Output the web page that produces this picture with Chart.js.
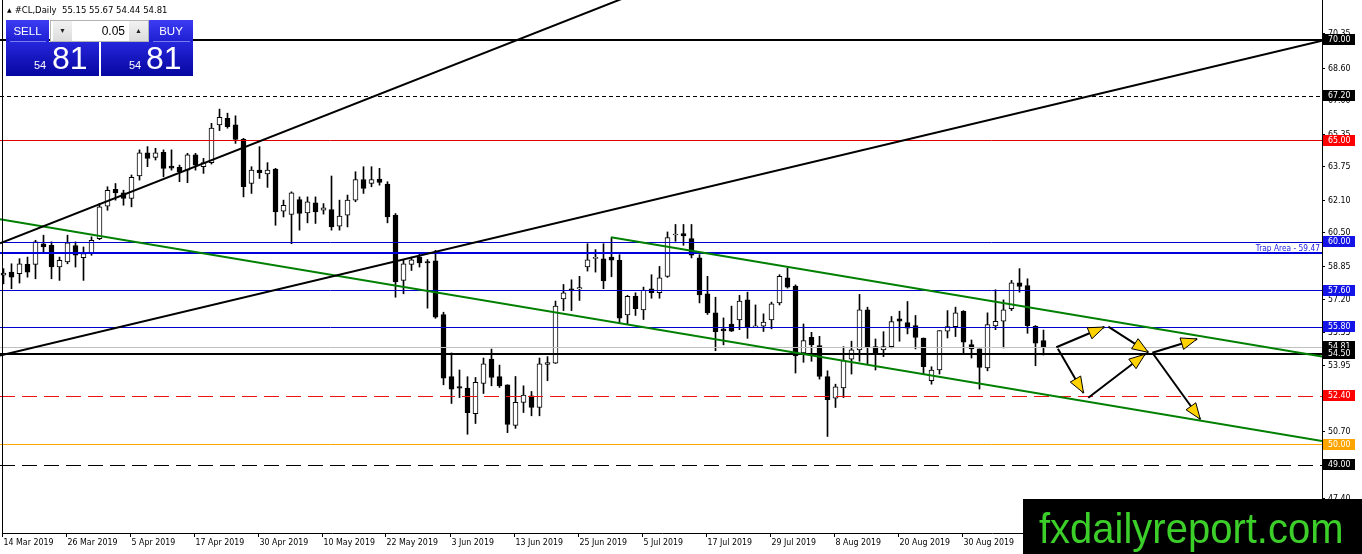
<!DOCTYPE html>
<html>
<head>
<meta charset="utf-8">
<title>#CL,Daily</title>
<script src="https://cdn.jsdelivr.net/npm/chart.js@4.4.1/dist/chart.umd.min.js"></script>
<style>
  html, body { margin: 0; padding: 0; background: #fff; overflow: hidden; }
  #wrap { position: relative; width: 1362px; height: 554px; }
  #chart { position: absolute; left: 0; top: 0; }
  .hdr { position: absolute; left: 7px; top: 5px; font: 8.5px "DejaVu Sans", sans-serif; color: #000; white-space: nowrap; }
  .hdr .tri { font-size: 6px; position: relative; top: -1px; margin-right: 3px; }
  .blk { position: absolute; color: #fff; font-family: "Liberation Sans", Arial, sans-serif; }
  .head { height: 22px; line-height: 22px; font-size: 11.5px; text-align: center; background: linear-gradient(#3c3cf2, #1d1dd2); }
  .head::after { content: ""; position: absolute; left: 4px; right: 3px; bottom: 0; height: 1px; background: rgba(200,200,255,0.55); }
  .px { height: 34px; background: linear-gradient(#2626dc, #0606a0); }
  .px .sm { position: absolute; font-size: 11px; line-height: 11px; top: 18px; }
  .px .big { position: absolute; font-size: 32px; line-height: 32px; top: 0px; }
  .spin { position: absolute; left: 50px; top: 20px; width: 97px; height: 20px; background: #fff; border: 1px solid #b4b4b4; font-family: "Liberation Sans", Arial, sans-serif; }
  .spin .b { position: absolute; top: 0; width: 19px; height: 20px; background: linear-gradient(#f2f2f2, #dcdcdc); font-size: 7px; line-height: 20px; text-align: center; color: #222; }
  .spin .v { position: absolute; left: 22px; width: 52px; text-align: right; font-size: 12px; line-height: 20px; color: #000; }
</style>
</head>
<body>
<div id="wrap">
  <canvas id="chart" width="1362" height="554"></canvas>
  <div class="hdr"><span class="tri">▲</span>#CL,Daily&nbsp; 55.15 55.67 54.44 54.81</div>
  <div class="blk head" style="left:6px;top:20px;width:43px;">SELL</div>
  <div class="spin"><div class="b" style="left:2px;">▼</div><div class="v">0.05</div><div class="b" style="right:0;">▲</div></div>
  <div class="blk head" style="left:149px;top:20px;width:44px;">BUY</div>
  <div class="blk px" style="left:6px;top:42px;width:93px;"><span class="sm" style="left:28px;">54</span><span class="big" style="left:46px;">81</span></div>
  <div class="blk px" style="left:101px;top:42px;width:92px;"><span class="sm" style="left:28px;">54</span><span class="big" style="left:45px;">81</span></div>
</div>
<script>
// daily candles, 14 Mar 2019 .. 13 Sep 2019
const opens = [
  58.38, 58.53, 58.45, 58.91, 58.91, 59.93, 59.85, 58.78, 59.03, 59.84,
  59.24, 59.44, 60.18, 61.78, 62.61, 62.44, 62.16, 63.27, 64.42, 64.19,
  64.44, 63.76, 63.70, 63.56, 64.31, 63.73, 63.93, 65.79, 66.12, 65.79,
  65.08, 62.90, 63.56, 63.37, 63.61, 61.54, 61.37, 62.11, 61.45, 61.95,
  61.58, 61.62, 60.79, 61.34, 62.08, 63.10, 62.90, 63.12, 62.87, 61.34,
  58.12, 58.91, 59.27, 59.05, 59.08, 56.43, 53.37, 52.88, 52.81, 51.55,
  53.04, 54.24, 53.37, 52.97, 50.97, 52.10, 52.43, 51.85, 53.98, 54.04,
  57.21, 57.70, 57.70, 58.78, 59.20, 59.19, 59.27, 59.11, 56.42, 57.33,
  56.67, 57.71, 57.51, 58.32, 60.36, 60.43, 60.18, 59.23, 57.46, 56.52,
  55.73, 55.97, 56.17, 57.16, 55.83, 55.86, 56.17, 57.01, 58.25, 57.84,
  54.54, 55.31, 54.90, 53.37, 52.31, 52.81, 54.24, 54.69, 56.67, 54.85,
  54.69, 54.85, 56.22, 56.04, 55.89, 55.28, 53.17, 53.70, 55.61, 55.84,
  56.60, 54.95, 54.74, 53.80, 55.87, 56.11, 56.72, 58.00, 57.87, 55.86,
  55.15
];
const highs = [
  58.70, 58.94, 59.19, 59.27, 60.10, 60.35, 60.02, 59.27, 60.35, 60.02,
  59.77, 60.27, 61.91, 62.74, 62.90, 62.57, 63.32, 64.56, 64.72, 64.64,
  64.56, 64.56, 63.81, 64.39, 64.39, 64.14, 65.87, 66.57, 66.37, 66.24,
  65.13, 63.73, 64.72, 63.93, 63.65, 62.08, 62.49, 62.24, 62.24, 62.24,
  61.91, 63.27, 62.08, 62.33, 63.48, 63.73, 63.73, 63.65, 62.99, 61.42,
  59.14, 59.27, 59.44, 59.15, 59.60, 56.55, 54.54, 53.70, 53.37, 53.33,
  54.29, 54.73, 53.94, 52.97, 53.38, 52.92, 52.64, 54.29, 54.36, 57.10,
  57.92, 58.15, 58.32, 59.93, 59.64, 59.93, 60.23, 59.39, 57.38, 57.51,
  57.79, 58.40, 58.81, 60.51, 60.88, 60.88, 60.88, 59.39, 58.32, 57.29,
  56.27, 56.85, 57.38, 57.54, 56.91, 56.47, 57.05, 58.40, 58.73, 57.90,
  55.97, 55.56, 55.36, 53.66, 53.00, 54.85, 55.12, 57.43, 56.80, 55.23,
  55.59, 56.34, 56.60, 57.08, 56.39, 55.28, 53.86, 55.64, 56.63, 56.80,
  56.63, 55.18, 54.74, 56.52, 57.66, 57.16, 58.12, 58.70, 58.20, 55.89,
  55.67
];
const lows = [
  57.95, 57.71, 57.99, 58.28, 58.20, 59.52, 58.20, 58.12, 58.94, 58.78,
  58.12, 59.36, 60.13, 61.58, 62.08, 61.83, 61.75, 63.07, 63.73, 64.06,
  63.23, 63.56, 62.99, 62.94, 63.56, 63.40, 63.86, 65.51, 65.63, 64.88,
  62.24, 62.41, 63.15, 62.71, 60.84, 61.25, 59.93, 60.60, 60.96, 60.93,
  61.39, 60.60, 60.60, 60.76, 62.00, 62.41, 62.74, 62.82, 60.96, 57.29,
  57.46, 58.61, 58.78, 56.75, 56.25, 52.97, 52.05, 52.34, 50.53, 51.06,
  52.54, 52.92, 52.84, 50.61, 50.82, 51.60, 51.44, 51.44, 53.17, 54.02,
  56.63, 56.63, 57.13, 58.58, 58.53, 57.71, 58.30, 56.02, 55.97, 56.39,
  56.19, 57.24, 57.24, 58.27, 60.05, 59.85, 59.23, 57.01, 56.44, 54.65,
  54.94, 55.60, 55.69, 55.26, 55.81, 55.60, 55.73, 56.91, 57.74, 53.55,
  54.08, 54.13, 53.25, 50.42, 51.85, 52.34, 53.50, 54.13, 53.99, 53.70,
  54.36, 54.79, 55.12, 55.48, 54.74, 53.50, 53.00, 53.50, 55.28, 55.35,
  54.52, 54.29, 52.76, 53.66, 55.69, 54.79, 56.63, 57.54, 55.51, 53.91,
  54.44
];
const closes = [
  58.48, 58.28, 58.94, 58.53, 60.02, 59.77, 58.78, 59.11, 59.97, 59.36,
  59.44, 60.10, 61.75, 62.57, 62.44, 62.16, 63.20, 64.42, 64.14, 64.42,
  63.65, 63.66, 63.48, 64.31, 63.81, 63.93, 65.63, 66.17, 65.71, 65.08,
  62.74, 63.56, 63.43, 63.56, 61.50, 61.83, 62.44, 61.42, 62.00, 61.50,
  61.70, 60.76, 61.29, 62.08, 63.10, 62.66, 63.10, 62.95, 61.25, 58.04,
  58.94, 59.14, 58.98, 58.98, 56.30, 53.30, 52.76, 52.80, 51.60, 53.09,
  54.00, 53.33, 52.92, 51.02, 52.10, 52.46, 51.85, 54.00, 54.06, 56.85,
  57.51, 57.62, 57.76, 59.14, 59.26, 58.09, 59.12, 56.26, 57.34, 56.72,
  57.64, 57.51, 58.25, 60.23, 60.40, 60.31, 59.36, 57.41, 56.52, 55.59,
  55.63, 55.61, 57.10, 55.84, 55.86, 56.06, 56.96, 58.32, 57.79, 54.40,
  55.15, 54.94, 53.38, 52.24, 52.87, 54.16, 54.69, 56.67, 54.82, 54.49,
  54.85, 56.09, 56.11, 55.76, 55.31, 53.86, 53.70, 55.64, 55.84, 56.52,
  55.07, 54.74, 53.83, 55.94, 56.10, 56.67, 58.00, 57.82, 55.89, 55.02,
  54.81
];

// date labels, one every 8 bars starting at bar 0
const dateLabels = ['14 Mar 2019', '26 Mar 2019', '5 Apr 2019', '17 Apr 2019', '30 Apr 2019',
  '10 May 2019', '22 May 2019', '3 Jun 2019', '13 Jun 2019', '25 Jun 2019', '5 Jul 2019',
  '17 Jul 2019', '29 Jul 2019', '8 Aug 2019', '20 Aug 2019', '30 Aug 2019'];
const dateStep = 8;

// right axis tick labels
const priceTicks = [70.35, 68.60, 67.00, 65.35, 63.75, 62.10, 60.50, 58.85, 57.20, 55.55,
  53.95, 52.30, 50.70, 49.05, 47.40];

// horizontal levels
const levelPrices = [70.00, 67.20, 65.00, 60.00, 59.47, 57.60, 55.80, 54.81, 54.50, 52.40, 50.00, 49.00];
const trapPrice = 59.47;

// trend lines as [bar, price] end points
const steepLine  = [[-0.44, 59.95], [80.0, 72.43]];
const longLine   = [[-0.44, 54.41], [164.81, 69.95]];
const lowerGreen = [[-0.44, 61.14], [164.81, 50.20]];
const upperGreen = [[75.94, 60.25], [164.81, 54.36]];

// projection arrows, [bar, price] from -> to
const arrowPaths = [
  [[131.6, 54.82], [137.6, 55.82]],
  [[138.1, 55.84], [143.1, 54.57]],
  [[131.8, 54.75], [135.0, 52.57]],
  [[135.6, 52.33], [142.7, 54.48]],
  [[143.6, 54.55], [149.2, 55.23]],
  [[143.7, 54.50], [149.6, 51.27]]
];

const xMin = -0.4375, xMax = 164.8125;
const yMin = 45.658, yMax = 71.954;

const levelStyles = [
  { color: '#000000', width: 2,   dash: [],      tag: '#000000' },
  { color: '#000000', width: 1,   dash: [4, 3],  tag: '#000000' },
  { color: '#e00000', width: 1,   dash: [],      tag: '#ff0000' },
  { color: '#0000cc', width: 1,   dash: [],      tag: '#1414e6' },
  { color: '#0000dd', width: 2,   dash: [],      tag: null },
  { color: '#0000cc', width: 1,   dash: [],      tag: '#1414e6' },
  { color: '#0000cc', width: 1,   dash: [],      tag: '#1414e6' },
  { color: '#c0c0c0', width: 1,   dash: [],      tag: '#000000' },
  { color: '#000000', width: 2,   dash: [],      tag: '#000000' },
  { color: '#ee1111', width: 1,   dash: [15, 7], tag: '#ff0000' },
  { color: '#ffa500', width: 1,   dash: [],      tag: '#ffa500' },
  { color: '#000000', width: 1,   dash: [15, 7], tag: '#000000' }
];

const idx = opens.map((o, i) => i);

const trendSets = [
  [steepLine, '#000000'], [longLine, '#000000'], [lowerGreen, '#008000'], [upperGreen, '#008000']
].map(([pts, color]) => ({
  type: 'line',
  data: pts.map(p => ({ x: p[0], y: p[1] })),
  borderColor: color,
  borderWidth: 2,
  pointRadius: 0,
  order: 4
}));

// squeezed text so DejaVu comes near the narrow terminal font
function axisText(ctx, txt, x, y, align) {
  ctx.save();
  ctx.translate(x, y);
  ctx.scale(0.83, 1);
  ctx.textAlign = align || 'left';
  ctx.fillText(txt, 0, 0);
  ctx.restore();
}

function drawLevels(chart) {
  const ctx = chart.ctx, ys = chart.scales.y, area = chart.chartArea;
  ctx.save();
  levelPrices.forEach((p, k) => {
    const st = levelStyles[k];
    const raw = ys.getPixelForValue(p);
    const y = st.width % 2 === 0 ? Math.round(raw) : Math.floor(raw) + 0.5;
    ctx.strokeStyle = st.color;
    ctx.lineWidth = st.width;
    ctx.setLineDash(st.dash);
    ctx.beginPath();
    ctx.moveTo(area.left, y);
    ctx.lineTo(area.right, y);
    ctx.stroke();
  });
  ctx.restore();
}

const overlay = {
  id: 'overlay',
  afterDatasetDraw(chart, args) {
    // levels sit above the candles, below the trend lines
    if (args.index === 1) drawLevels(chart);
  },
  afterDatasetsDraw(chart) {
    const ctx = chart.ctx, xs = chart.scales.x, ys = chart.scales.y;
    ctx.save();
    arrowPaths.forEach(([a, b]) => {
      const x0 = xs.getPixelForValue(a[0]), y0 = ys.getPixelForValue(a[1]);
      const x1 = xs.getPixelForValue(b[0]), y1 = ys.getPixelForValue(b[1]);
      ctx.strokeStyle = '#000';
      ctx.lineWidth = 2;
      ctx.beginPath(); ctx.moveTo(x0, y0); ctx.lineTo(x1, y1); ctx.stroke();
      const ang = Math.atan2(y1 - y0, x1 - x0);
      const len = 16, half = 6;
      const bx = x1 - len * Math.cos(ang), by = y1 - len * Math.sin(ang);
      ctx.beginPath();
      ctx.moveTo(x1, y1);
      ctx.lineTo(bx + half * Math.sin(ang), by - half * Math.cos(ang));
      ctx.lineTo(bx - half * Math.sin(ang), by + half * Math.cos(ang));
      ctx.closePath();
      ctx.fillStyle = '#ffd200';
      ctx.fill();
      ctx.lineWidth = 1;
      ctx.stroke();
    });
    ctx.restore();
  },
  afterDraw(chart) {
    const ctx = chart.ctx, xs = chart.scales.x, ys = chart.scales.y, area = chart.chartArea;
    ctx.save();
    // frame
    ctx.strokeStyle = '#000';
    ctx.lineWidth = 1;
    ctx.beginPath();
    ctx.moveTo(2.5, 0); ctx.lineTo(2.5, area.bottom + 0.5);
    ctx.lineTo(area.right + 0.5, area.bottom + 0.5);
    ctx.lineTo(area.right + 0.5, 0);
    ctx.stroke();

    // price scale
    ctx.fillStyle = '#000';
    ctx.font = '9.5px "DejaVu Sans", sans-serif';
    ctx.textBaseline = 'middle';
    priceTicks.forEach(v => {
      const y = Math.round(ys.getPixelForValue(v)) + 0.5;
      ctx.beginPath(); ctx.moveTo(area.right, y); ctx.lineTo(area.right + 3, y); ctx.stroke();
      axisText(ctx, v.toFixed(2), area.right + 6, y);
    });

    // time scale
    dateLabels.forEach((lab, k) => {
      const x = Math.round(xs.getPixelForValue(k * dateStep)) - 1.5;
      ctx.beginPath(); ctx.moveTo(x, area.bottom); ctx.lineTo(x, area.bottom + 4); ctx.stroke();
      axisText(ctx, lab, x + 1, area.bottom + 10);
    });

    // trap area caption
    ctx.fillStyle = '#1a1ae0';
    ctx.textBaseline = 'alphabetic';
    ctx.font = '9px "DejaVu Sans", sans-serif';
    axisText(ctx, 'Trap Area - ' + trapPrice.toFixed(2), area.right - 2, ys.getPixelForValue(trapPrice) - 2.5, 'right');

    // price tags
    ctx.font = '9.5px "DejaVu Sans", sans-serif';
    ctx.textBaseline = 'middle';
    levelPrices.forEach((p, k) => {
      const st = levelStyles[k];
      if (!st.tag) return;
      const y = Math.round(ys.getPixelForValue(p));
      ctx.fillStyle = st.tag;
      ctx.fillRect(area.right + 1, y - 6, 32, 11);
      ctx.fillStyle = '#fff';
      axisText(ctx, p.toFixed(2), area.right + 6, y);
    });

    // watermark
    ctx.fillStyle = '#000';
    ctx.fillRect(1023, 499, 339, 55);
    ctx.fillStyle = '#3ccf2a';
    ctx.font = '43px "Liberation Sans", Arial, sans-serif';
    ctx.textBaseline = 'alphabetic';
    ctx.translate(1039, 543);
    ctx.scale(0.93, 1);
    ctx.textAlign = 'left';
    ctx.fillText('fxdailyreport.com', 0, 0);
    ctx.restore();
  }
};

new Chart(document.getElementById('chart'), {
  type: 'bar',
  data: {
    datasets: [
      {
        label: 'wicks',
        data: idx.map(i => ({ x: i, y: [lows[i], highs[i]] })),
        backgroundColor: '#000',
        borderWidth: 0,
        barThickness: 1,
        grouped: false,
        order: 20
      },
      {
        label: 'bodies',
        data: idx.map(i => ({ x: i, y: [opens[i], closes[i]] })),
        backgroundColor: idx.map(i => closes[i] >= opens[i] ? '#ffffff' : '#000000'),
        borderColor: '#000',
        borderWidth: 1,
        borderSkipped: false,
        barThickness: 5,
        minBarLength: 1,
        grouped: false,
        order: 19
      },
      ...trendSets
    ]
  },
  options: {
    responsive: false,
    animation: false,
    events: [],
    layout: { padding: { left: 0, top: 0, right: 40, bottom: 21 } },
    scales: {
      x: { type: 'linear', min: xMin, max: xMax, offset: false, display: false },
      y: { type: 'linear', min: yMin, max: yMax, display: false }
    },
    plugins: { legend: { display: false }, tooltip: { enabled: false } }
  },
  plugins: [overlay]
});
</script>
</body>
</html>
